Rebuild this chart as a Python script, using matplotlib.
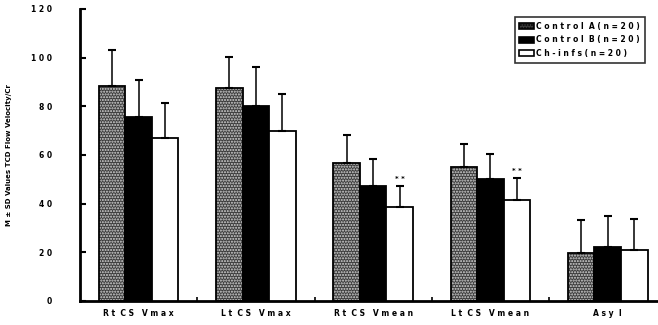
import matplotlib
matplotlib.use("Agg")
import matplotlib.pyplot as plt
import numpy as np
from matplotlib.patches import Patch

categories = ["R t  C S   V m a x", "L t  C S   V m a x", "R t  C S   V m e a n", "L t  C S   V m e a n", "A s y  I"]
series_names = ["C o n t r o l  A ( n = 2 0 )", "C o n t r o l  B ( n = 2 0 )", "C h - i n f s ( n = 2 0 )"]
control_a = [88.5, 87.6, 56.8, 55.1, 19.7]
control_a_sd = [14.5, 12.8, 11.5, 9.5, 13.6]
control_b = [75.7, 80.0, 47.3, 50.2, 22.2]
control_b_sd = [15.3, 16.0, 11.1, 10.3, 12.8]
chinfs = [67.0, 70.0, 38.7, 41.6, 21.0]
chinfs_sd = [14.5, 15.0, 8.6, 9.0, 12.7]
significance = ["", "", "* *", "* *", ""]
yticks = [0, 20, 40, 60, 80, 100, 120]
ytick_labels = ["0", "2 0", "4 0", "6 0", "8 0", "1 0 0", "1 2 0"]

plt.rcParams['font.family'] = ['DejaVu Sans']
fig = plt.figure(figsize=(6.58, 3.25), dpi=100)
ax = fig.add_axes([80/658, 24/325, 577/658, 292/325])

x = np.arange(len(categories))
w = 0.226
offsets = [-w, 0, w]

# Control A: speckled
ax.bar(x + offsets[0], control_a, w, color="#3c3c3c", edgecolor="#d8d8d8", hatch="......", linewidth=0, zorder=2)
ax.bar(x + offsets[0], control_a, w, facecolor="none", edgecolor="black", linewidth=1.3, zorder=3)
ax.bar(x + offsets[1], control_b, w, color="black", edgecolor="black", linewidth=1.3, zorder=3)
ax.bar(x + offsets[2], chinfs, w, color="white", edgecolor="black", linewidth=1.3, zorder=3)

for off, vals, sds in zip(offsets, [control_a, control_b, chinfs], [control_a_sd, control_b_sd, chinfs_sd]):
    ax.errorbar(x + off, vals, yerr=[np.zeros(len(vals)), sds], fmt="none", ecolor="black",
                elinewidth=1.1, capsize=3, capthick=1.5, zorder=4)

for i, s in enumerate(significance):
    if s:
        ax.text(x[i] + offsets[2], chinfs[i] + chinfs_sd[i] + 1.5, s, ha="center", va="bottom",
                fontsize=5, fontweight="bold")

ax.set_xlim(-0.5, 4.42)
ax.set_ylim(0, 120)
ax.set_yticks(yticks)
ax.set_yticklabels(ytick_labels, fontsize=5.5, fontweight="bold")
ax.set_xticks(x)
ax.set_xticklabels(categories, fontsize=5.5, fontweight="bold")
ax.set_xticks(x[:-1] + 0.5, minor=True)
ax.tick_params(axis="x", which="major", length=0, pad=6)
ax.tick_params(axis="x", which="minor", direction="in", length=3, width=1.2)
ax.tick_params(axis="y", direction="in", length=4, width=1.5, pad=20)
for lab in ax.get_yticklabels():
    lab.set_horizontalalignment("right")

ax.spines["top"].set_visible(False)
ax.spines["right"].set_visible(False)
ax.spines["left"].set_linewidth(2)
ax.spines["bottom"].set_linewidth(2)

ax.set_ylabel("M ± SD Values TCD Flow Velocity/Cr", fontsize=5, fontweight="bold", labelpad=14)

handles = [Patch(facecolor="#3c3c3c", edgecolor="black", hatch="......", linewidth=1.2),
           Patch(facecolor="black", edgecolor="black", linewidth=1.2),
           Patch(facecolor="white", edgecolor="black", linewidth=1.2)]
leg = ax.legend(handles, series_names, loc="upper right", bbox_to_anchor=(0.985, 0.985),
                prop={"weight": "bold", "size": 5.5}, frameon=True, fancybox=False,
                edgecolor="black", handlelength=1.9, handleheight=0.9, handletextpad=0.3,
                borderpad=0.6, labelspacing=0.6)
leg.get_frame().set_linewidth(1.2)

fig.savefig("out.png", dpi=100)
